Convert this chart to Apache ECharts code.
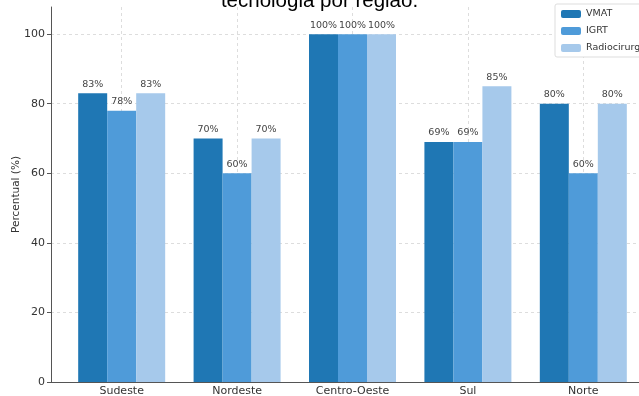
<!DOCTYPE html>
<html><head><meta charset="utf-8">
<script src="https://cdn.jsdelivr.net/npm/echarts@6/dist/echarts.min.js"></script>
<style>html,body{margin:0;padding:0;background:#fff}#c{width:639px;height:396px}</style>
</head><body><div id="c"></div>
<script>
const categories = ['Sudeste', 'Nordeste', 'Centro-Oeste', 'Sul', 'Norte'];
const vmat  = [83, 70, 100, 69, 80];
const igrt  = [78, 60, 100, 69, 60];
const radio = [83, 70, 100, 85, 80];
const seriesNames = ['VMAT', 'IGRT', 'Radiocirurgia'];
const yTicks = [0, 20, 40, 60, 80, 100];

const colors = ['#1f77b4', '#4f9bd9', '#a6c9eb'];
const font = 'DejaVu Sans';

function mk(name, vals, color) {
  return {
    name: name, type: 'bar', barWidth: 29, barGap: '0%',
    data: vals.map((v, i) => [i, v]),
    itemStyle: { color: color },
    label: { show: true, position: 'top', distance: 4, formatter: p => p.value[1] + '%',
      fontFamily: font, fontSize: 9.5, color: '#444' },
    emphasis: { disabled: true },
    z: 3
  };
}

const chart = echarts.init(document.getElementById('c'), null, { renderer: 'canvas' });
chart.setOption({
  animation: false,
  title: { text: 'tecnologia por região.', left: 'center', top: -14,
    textStyle: { fontFamily: 'Liberation Sans', fontSize: 20.5, fontWeight: 'normal', color: '#000' } },
  grid: { left: 51, right: -15, top: 7, bottom: 14, containLabel: false, outerBoundsMode: 'none' },
  legend: {
    data: seriesNames, orient: 'vertical', left: 555, top: 4,
    itemWidth: 20, itemHeight: 8, itemGap: 7,
    backgroundColor: '#fff', borderColor: '#ddd', borderWidth: 1, borderRadius: 2,
    padding: [5, 6, 4, 6],
    textStyle: { fontFamily: font, fontSize: 9.5, color: '#333' }
  },
  xAxis: {
    type: 'value', min: -0.6125, max: 4.6125,
    axisLine: { show: true, onZero: false, lineStyle: { color: '#555', width: 1 } },
    axisTick: { show: true, inside: true, customValues: categories.map((c, i) => i), length: 4, lineStyle: { color: '#555' } },
    axisLabel: { customValues: categories.map((c, i) => i), formatter: v => categories[Math.round(v)] || '',
      fontFamily: font, fontSize: 11, color: '#333', margin: 4 },
    splitLine: { show: true, lineStyle: { color: '#ddd', type: [3, 3] } }
  },
  yAxis: {
    type: 'value', min: 0, max: 107.8, interval: 20,
    name: 'Percentual (%)', nameLocation: 'middle', nameGap: 29, nameMoveOverlap: false,
    nameTextStyle: { fontFamily: font, fontSize: 10.5, color: '#333' },
    axisLine: { show: true, onZero: false, lineStyle: { color: '#555', width: 1 } },
    axisTick: { show: true, customValues: yTicks, length: 4, lineStyle: { color: '#555' } },
    axisLabel: { customValues: yTicks, fontFamily: font, fontSize: 11, color: '#333', margin: 6 },
    splitLine: { show: true, lineStyle: { color: '#ddd', type: [3, 3] } }
  },
  series: [mk(seriesNames[0], vmat, colors[0]), mk(seriesNames[1], igrt, colors[1]), mk(seriesNames[2], radio, colors[2])]
});
</script></body></html>
